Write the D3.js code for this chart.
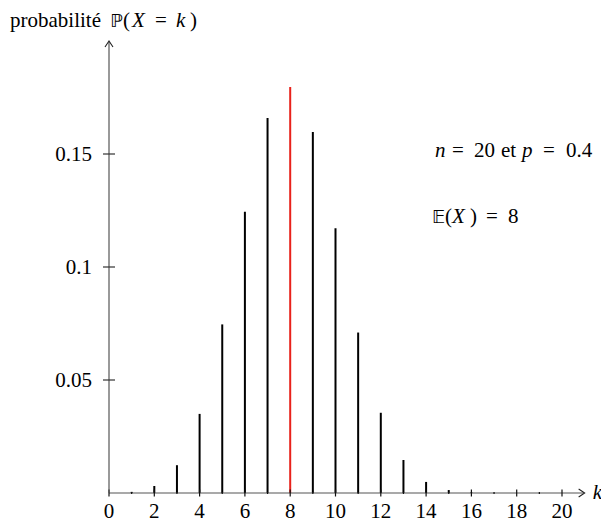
<!DOCTYPE html>
<html>
<head>
<meta charset="utf-8">
<script src="https://cdn.jsdelivr.net/npm/d3@7"></script>
<style>
  body { margin: 0; background: #fff; }
  svg text { font-family: "Liberation Serif", "Times New Roman", serif; }
  svg text tspan.bb { font-family: "DejaVu Sans", sans-serif; font-size: 18px; }
</style>
</head>
<body>
<svg width="601" height="518"></svg>
<script>
// binomial n = 20, p = 0.4
const ks = d3.range(0, 21);
const probs = [0.00004, 0.0005, 0.0031, 0.0123, 0.0350, 0.0746, 0.1244, 0.1659, 0.1797, 0.1597,
               0.1171, 0.0710, 0.0355, 0.0146, 0.0049, 0.0013, 0.0003, 0.00004, 0, 0, 0];
const meanK = 8;
const xLabels = [0, 2, 4, 6, 8, 10, 12, 14, 16, 18, 20];
const yTicks = [0.05, 0.1, 0.15];
const yTickLabels = ["0.05", "0.1", "0.15"];

const svg = d3.select("svg");
const fs = 21;

const x = d3.scaleLinear().domain([0, 20]).range([109, 562]);
const y = d3.scaleLinear().domain([0, 0.2]).range([493, 41]);

const axisColor = "#555";

// Bars
svg.selectAll("line.bar")
  .data(ks)
  .enter()
  .append("line")
  .attr("class", "bar")
  .attr("x1", k => x(k))
  .attr("x2", k => x(k))
  .attr("y1", y(0))
  .attr("y2", k => y(probs[k]))
  .attr("stroke", k => k === meanK ? "#e8221b" : "#000")
  .attr("stroke-width", 2);

// x axis
svg.append("line")
  .attr("x1", x(0)).attr("x2", x(21) - 1)
  .attr("y1", y(0)).attr("y2", y(0))
  .attr("stroke", axisColor).attr("stroke-width", 1.2);

svg.append("path")
  .attr("d", `M${x(21) - 6},${y(0) - 4} L${x(21)},${y(0)} L${x(21) - 6},${y(0) + 4}`)
  .attr("fill", "none").attr("stroke", "#222").attr("stroke-width", 1.1);

svg.selectAll("line.xtick")
  .data(ks)
  .enter()
  .append("line")
  .attr("class", "xtick")
  .attr("x1", k => x(k)).attr("x2", k => x(k))
  .attr("y1", k => y(0) - (k % 2 === 0 ? 3.5 : 1))
  .attr("y2", k => y(0) + (k % 2 === 0 ? 3.5 : 1))
  .attr("stroke", "#111").attr("stroke-width", 1.2);

svg.selectAll("text.xlab")
  .data(xLabels)
  .enter()
  .append("text")
  .attr("class", "xlab")
  .attr("x", d => x(d))
  .attr("y", 518)
  .attr("text-anchor", "middle")
  .attr("font-size", fs)
  .text(d => d);

svg.append("text")
  .attr("x", x(21) + 8).attr("y", y(0) + 6)
  .attr("font-size", fs).attr("font-style", "italic")
  .text("k");

// y axis
svg.append("line")
  .attr("x1", x(0)).attr("x2", x(0))
  .attr("y1", y(0)).attr("y2", y(0.2) + 1)
  .attr("stroke", axisColor).attr("stroke-width", 1.2);

svg.append("path")
  .attr("d", `M${x(0) - 4},${y(0.2) + 6} L${x(0)},${y(0.2)} L${x(0) + 4},${y(0.2) + 6}`)
  .attr("fill", "none").attr("stroke", "#222").attr("stroke-width", 1.1);

svg.selectAll("line.ytick")
  .data(yTicks)
  .enter()
  .append("line")
  .attr("class", "ytick")
  .attr("x1", x(0) - 6).attr("x2", x(0) + 6)
  .attr("y1", d => y(d)).attr("y2", d => y(d))
  .attr("stroke", "#333").attr("stroke-width", 1.2);

svg.selectAll("text.ylab")
  .data(yTicks)
  .enter()
  .append("text")
  .attr("class", "ylab")
  .attr("x", 92)
  .attr("y", d => y(d) + 6.5)
  .attr("text-anchor", "end")
  .attr("font-size", fs)
  .text((d, i) => yTickLabels[i]);

// math-like text: pieces placed with their own x, as TeX spacing
function mathText(parts, yPos) {
  const t = svg.append("text").attr("y", yPos).attr("font-size", fs);
  parts.forEach(([px, s, style]) => {
    const sp = t.append("tspan").attr("x", px).text(s);
    if (style === "i") sp.attr("font-style", "italic");
    if (style === "bb") sp.attr("class", "bb");
  });
  return t;
}

// Title
mathText([[10, "probabilité"], [110, "ℙ", "bb"], [123, "("], [132, "X", "i"],
          [155, "="], [176, "k", "i"], [190, ")"]], 27);

// Annotations
mathText([[435, "n", "i"], [452, "="], [474, "20"], [501, "et"], [522, "p", "i"],
          [543, "="], [566, "0.4"]], 157);
mathText([[432, "𝔼", "bb"], [445, "("], [452, "X", "i"], [470, ")"],
          [486, "="], [508, "8"]], 223);
</script>
</body>
</html>
